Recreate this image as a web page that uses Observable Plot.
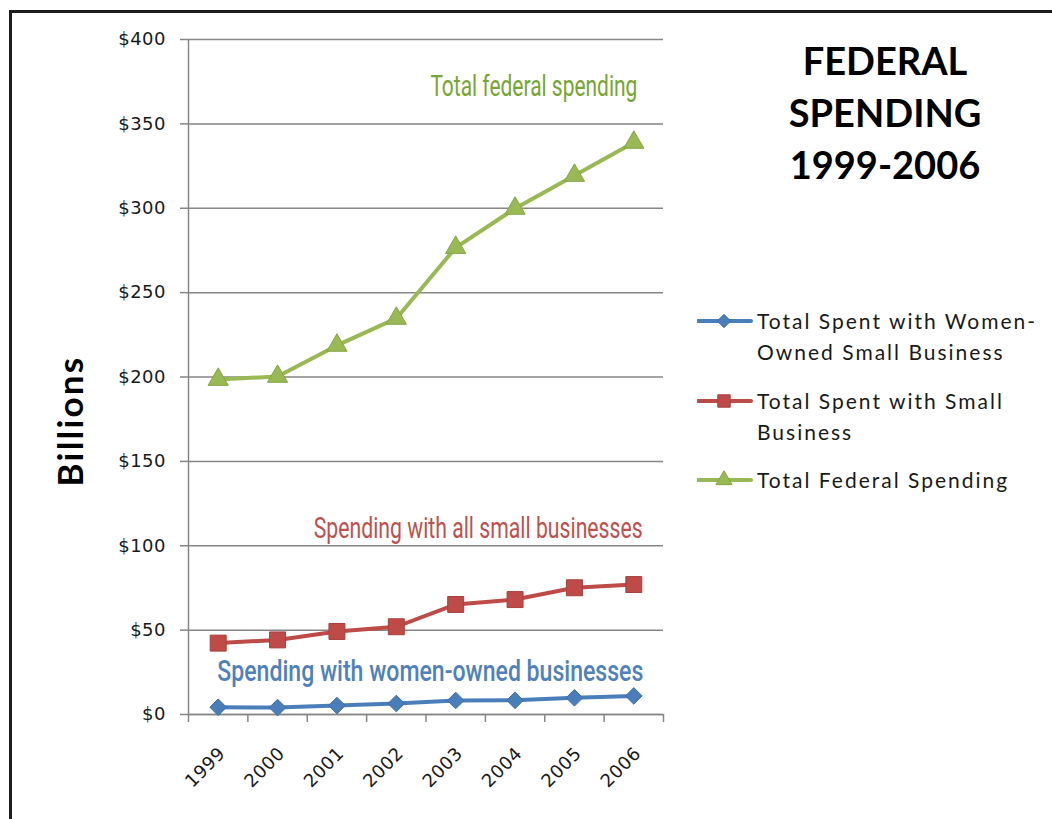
<!DOCTYPE html>
<html>
<head>
<meta charset="utf-8">
<script src="https://cdn.jsdelivr.net/npm/d3@7"></script>
<script src="https://cdn.jsdelivr.net/npm/@observablehq/plot@0.6"></script>
<style>
  html, body { margin: 0; padding: 0; background: #fff; }
  body { width: 1052px; height: 819px; position: relative; overflow: hidden; }
  #frame { position: absolute; left: 9px; top: 10px; width: 1200px; height: 1000px;
           border: 3px solid #1c1c1c; box-sizing: border-box; }
  #chart { position: absolute; left: 0; top: 0; }
  #title { position: absolute; left: 735px; width: 300px; top: 34px; text-align: center;
           font-family: Lato, "Open Sans", sans-serif; font-weight: bold; font-size: 38px;
           line-height: 52px; color: #000; }
  #ylabel { position: absolute; left: 69px; top: 421px; transform: translate(-50%, -50%) rotate(-90deg);
            font-family: Lato, "Open Sans", sans-serif; font-weight: bold; font-size: 35px; color: #000;
            letter-spacing: 2.2px; white-space: nowrap; }
  .leg { position: absolute; left: 697px; font-family: Lato, "Open Sans", sans-serif; font-size: 21px;
         letter-spacing: 2px; line-height: 31px; color: #1a1a1a; }
  .leg svg { position: absolute; left: 0; top: 6px; }
  .leg span { position: absolute; left: 60px; top: 0; white-space: nowrap; }
</style>
</head>
<body>
<div id="frame"></div>
<div id="chart"></div>
<div id="title">FEDERAL<br>SPENDING<br>1999-2006</div>
<div id="ylabel">Billions</div>
<div id="legend"></div>
<script>
// ---- data ----
const years = [1999, 2000, 2001, 2002, 2003, 2004, 2005, 2006];
const womenOwned = [4.3, 4.1, 5.3, 6.5, 8.3, 8.4, 9.9, 11.0];
const smallBusiness = [42.3, 44.2, 49.2, 52.0, 65.2, 68.1, 75.1, 77.0];
const federalTotal = [198.5, 200.3, 218.7, 234.7, 276.7, 299.9, 319.4, 339.0];
const yTicks = [0, 50, 100, 150, 200, 250, 300, 350, 400];
const seriesNames = ["Total Spent with Women-\nOwned Small Business", "Total Spent with Small\nBusiness", "Total Federal Spending"];
const annotations = ["Total federal spending", "Spending with all small businesses", "Spending with women-owned businesses"];
const colors = ["#4a7ebb", "#be4b48", "#98b954"];
const darkColors = ["#3d6da8", "#a83f3c", "#86a646"];
const symbols = ["diamond2", "square", "triangle"];

const toRows = vals => years.map((y, i) => ({year: y, value: vals[i]}));
const women = toRows(womenOwned), small = toRows(smallBusiness), fed = toRows(federalTotal);
const boundaries = d3.range(years.length + 1).map(i => years[0] - 0.5 + i);

const grey = "#868686";
const condensed = 'Roboto, "Noto Sans", sans-serif';

const chart = Plot.plot({
  width: 1052,
  height: 819,
  marginLeft: 188,
  marginRight: 389,
  marginTop: 39,
  marginBottom: 105,
  style: {background: "transparent", fontFamily: "'DejaVu Sans', sans-serif", fontSize: "18px", letterSpacing: "0.5px"},
  x: {domain: [boundaries[0], boundaries[boundaries.length - 1]]},
  y: {domain: [0, 400]},
  marks: [
    Plot.gridY({ticks: yTicks, stroke: grey, strokeOpacity: 1, strokeWidth: 1.5}),
    Plot.ruleX([boundaries[0]], {stroke: grey, strokeWidth: 1.5}),
    Plot.ruleY([0], {stroke: grey, strokeWidth: 1.5}),
    Plot.axisY({ticks: yTicks, tickSize: 8, tickPadding: 14.5, stroke: grey, strokeWidth: 1.5,
      tickFormat: d => "$" + d, fill: "#1a1a1a", label: null}),
    Plot.axisX({ticks: boundaries, tickSize: 8, stroke: grey, strokeWidth: 1.5, tickFormat: () => "", label: null}),
    Plot.axisX({ticks: years, tickSize: 0, tickPadding: 36, tickRotate: -45, dx: 4,
      tickFormat: d => String(d), fill: "#1a1a1a", label: null}),
    Plot.line(fed, {x: "year", y: "value", stroke: colors[2], strokeWidth: 4}),
    Plot.line(small, {x: "year", y: "value", stroke: colors[1], strokeWidth: 4}),
    Plot.line(women, {x: "year", y: "value", stroke: colors[0], strokeWidth: 4}),
    Plot.dot(fed, {x: "year", y: "value", symbol: () => symbols[2], r: 7.5, fill: colors[2], stroke: darkColors[2], strokeWidth: 1}),
    Plot.dot(small, {x: "year", y: "value", symbol: () => symbols[1], r: 9, fill: colors[1], stroke: darkColors[1], strokeWidth: 1}),
    Plot.dot(women, {x: "year", y: "value", symbol: () => symbols[0], r: 7.5, fill: colors[0], stroke: darkColors[0], strokeWidth: 1}),
    Plot.text([annotations[0]], {x: 2006.06, y: 372.3, text: d => d, textAnchor: "end", fill: "#77a533",
      fontSize: 29, fontFamily: condensed}),
    Plot.text([annotations[1]], {x: 2006.15, y: 109.8, text: d => d, textAnchor: "end", fill: "#c0504d",
      fontSize: 29, fontFamily: condensed}),
    Plot.text([annotations[2]], {x: 2006.16, y: 25.6, text: d => d, textAnchor: "end", fill: "#4f81bd",
      fontSize: 29, fontWeight: 500, fontFamily: condensed})
  ]
});
document.getElementById("chart").appendChild(chart);

// condense annotation labels to the reference widths
const annWidths = [207, 329, 426];
d3.select(chart).selectAll("text").each(function() {
  const i = annotations.indexOf(this.textContent);
  if (i >= 0) {
    this.setAttribute("textLength", annWidths[i]);
    this.setAttribute("lengthAdjust", "spacingAndGlyphs");
    this.style.letterSpacing = "0px";
  }
});

// ---- legend ----
const legTops = [305, 385, 464];
const legend = d3.select("#legend");
seriesNames.forEach((name, i) => {
  const div = legend.append("div").attr("class", "leg").style("top", legTops[i] + "px");
  const svg = div.append("svg").attr("width", 56).attr("height", 20);
  svg.append("line").attr("x1", 1).attr("x2", 54).attr("y1", 10).attr("y2", 10)
    .attr("stroke", colors[i]).attr("stroke-width", 4).attr("stroke-linecap", "round");
  const symMap = {diamond2: d3.symbolDiamond2, square: d3.symbolSquare, triangle: d3.symbolTriangle};
  const r = i === 1 ? 7 : 6;
  svg.append("path").attr("transform", "translate(27,10)")
    .attr("d", d3.symbol(symMap[symbols[i]], Math.PI * r * r)())
    .attr("fill", colors[i]).attr("stroke", darkColors[i]).attr("stroke-width", 1);
  div.append("span").html(name.replace("\n", "<br>"));
});
</script>
</body>
</html>
